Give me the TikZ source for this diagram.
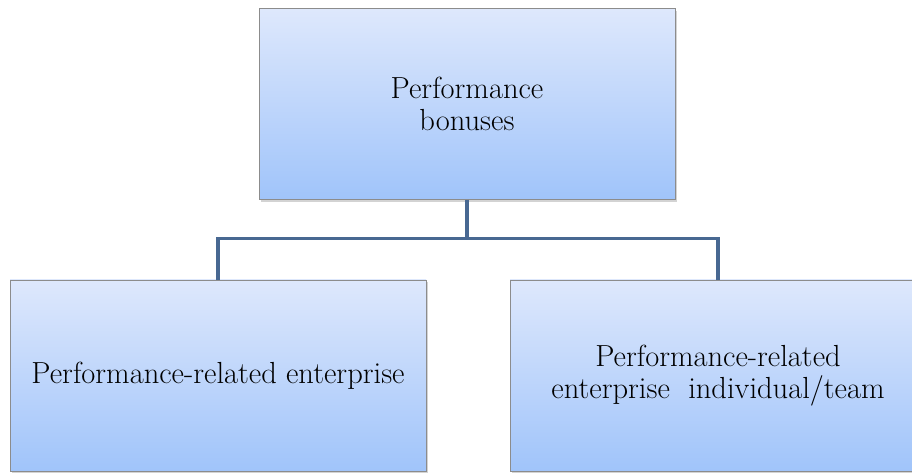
\documentclass[tikz,border=0pt]{standalone}
\usepackage{fontspec}
\usetikzlibrary{positioning, shadows}

\definecolor{boxtop}{RGB}{222,232,252}
\definecolor{boxbottom}{RGB}{160,196,250}
\definecolor{boxline}{RGB}{140,140,140}
\definecolor{linkline}{RGB}{72,104,146}

\begin{document}
\begin{tikzpicture}[
        x=1pt, y=1pt,
        node distance=80pt,
        block/.style={
            rectangle,
            minimum width=416pt,
            minimum height=191pt,
            align=center,
            draw=boxline,
            top color=boxtop,
            bottom color=boxbottom,
            font=\fontsize{30.5}{32}\selectfont,
            drop shadow={shadow xshift=2pt, shadow yshift=-2pt, opacity=0.35}
        },
        link/.style={
            line width=3.5pt,
            color=linkline
        }
    ]

    \useasboundingbox (0,0) rectangle (912,-472);

    \node (bonus) [block] at (467,-104) {Performance\\bonuses};

    \node (enterprise) [block, below=of bonus, xshift=-249pt] {Performance-related enterprise};

    \node (team) [block, below=of bonus, xshift=251pt] {Performance-related\\enterprise~ individual/team};

    % tree connectors
    \draw [link] (bonus.south) -- ++(0,-39) coordinate (bus);
    \draw [link] (bus) -| (enterprise.north);
    \draw [link] (bus) -| (team.north);

\end{tikzpicture}
\end{document}
